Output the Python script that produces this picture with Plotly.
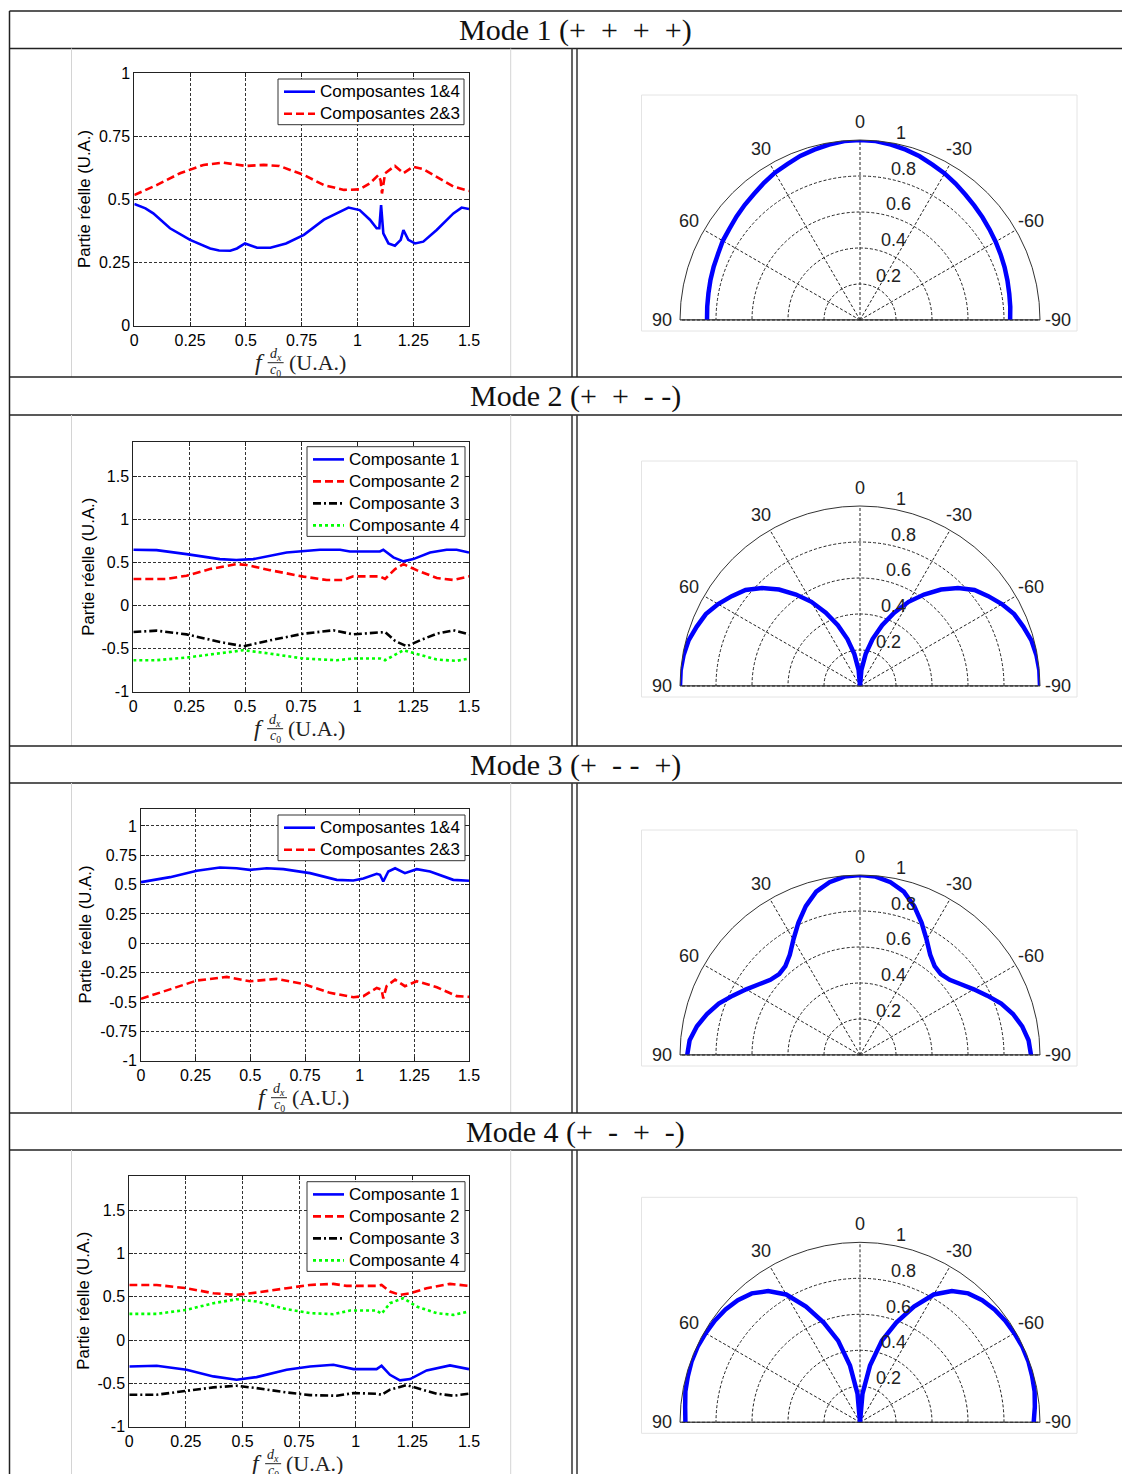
import math
import plotly.graph_objects as go

# page size and the 8 px body margin of the html page
PAGE_W, PAGE_H = 1130, 1474
OFF = 8
W, H = PAGE_W - OFF, PAGE_H - OFF

# ------------------------------------------------------------------ data
freq_tickvals = [0, 0.25, 0.5, 0.75, 1, 1.25, 1.5]
freq_ticktext = ["0", "0.25", "0.5", "0.75", "1", "1.25", "1.5"]

mode_names = ["Mode 1", "Mode 2", "Mode 3", "Mode 4"]
mode_signs = [["+", "+", "+", "+"], ["+", "+", "-", "-"], ["+", "-", "-", "+"], ["+", "-", "+", "-"]]
y_title = "Partie réelle (U.A.)"

# Mode 1
m1_c14_x = [0, 0.05, 0.085, 0.16, 0.25, 0.34, 0.38, 0.43, 0.46, 0.496, 0.55, 0.61, 0.68, 0.76, 0.85, 0.96,
            1.01, 1.056, 1.086, 1.098, 1.106, 1.116, 1.139, 1.168, 1.194, 1.206, 1.228, 1.258, 1.295, 1.355,
            1.43, 1.467, 1.5]
m1_c14_y = [0.482, 0.465, 0.445, 0.386, 0.34, 0.306, 0.298, 0.297, 0.306, 0.326, 0.309, 0.309, 0.326, 0.36,
            0.42, 0.468, 0.458, 0.42, 0.386, 0.386, 0.478, 0.366, 0.326, 0.317, 0.34, 0.379, 0.34, 0.326,
            0.333, 0.379, 0.445, 0.468, 0.462]
m1_c23_x = [0, 0.1, 0.205, 0.31, 0.4, 0.46, 0.5, 0.58, 0.65, 0.76, 0.85, 0.94, 1.01, 1.056, 1.094, 1.104,
            1.11, 1.124, 1.168, 1.206, 1.25, 1.295, 1.355, 1.43, 1.5]
m1_c23_y = [0.518, 0.557, 0.604, 0.637, 0.646, 0.639, 0.633, 0.637, 0.633, 0.597, 0.557, 0.538, 0.54, 0.564,
            0.597, 0.575, 0.524, 0.604, 0.633, 0.604, 0.63, 0.62, 0.59, 0.551, 0.534]

# Mode 2
m2_c1_x = [0, 0.104, 0.238, 0.387, 0.46, 0.536, 0.685, 0.834, 0.924, 0.968, 1.102, 1.117, 1.162, 1.207,
           1.251, 1.326, 1.4, 1.445, 1.5]
m2_c1_y = [0.646, 0.642, 0.596, 0.538, 0.527, 0.538, 0.615, 0.646, 0.646, 0.627, 0.627, 0.646, 0.558, 0.512,
           0.538, 0.615, 0.646, 0.646, 0.615]
m2_c2_x = [0, 0.149, 0.238, 0.343, 0.46, 0.506, 0.611, 0.76, 0.864, 0.939, 0.983, 1.102, 1.125, 1.17, 1.207,
           1.266, 1.356, 1.43, 1.5]
m2_c2_y = [0.308, 0.308, 0.346, 0.423, 0.48, 0.47, 0.41, 0.335, 0.296, 0.296, 0.338, 0.338, 0.308, 0.423,
           0.48, 0.41, 0.319, 0.296, 0.338]
m2_c3_x = [0, 0.104, 0.238, 0.387, 0.492, 0.611, 0.76, 0.894, 0.983, 1.102, 1.125, 1.17, 1.222, 1.281, 1.356,
           1.43, 1.5]
m2_c3_y = [-0.308, -0.292, -0.335, -0.423, -0.473, -0.404, -0.327, -0.288, -0.335, -0.319, -0.308, -0.412,
           -0.473, -0.404, -0.327, -0.288, -0.335]
m2_c4_x = [0, 0.104, 0.238, 0.387, 0.492, 0.611, 0.76, 0.909, 0.983, 1.102, 1.125, 1.207, 1.281, 1.356,
           1.445, 1.5]
m2_c4_y = [-0.635, -0.635, -0.604, -0.55, -0.519, -0.558, -0.615, -0.635, -0.615, -0.615, -0.635, -0.519,
           -0.577, -0.627, -0.642, -0.615]

# Mode 3
m3_c14_x = [0, 0.133, 0.255, 0.361, 0.437, 0.498, 0.575, 0.651, 0.773, 0.895, 0.971, 1.017, 1.078, 1.093,
            1.108, 1.131, 1.162, 1.207, 1.261, 1.322, 1.428, 1.5]
m3_c14_y = [0.521, 0.564, 0.618, 0.646, 0.64, 0.626, 0.64, 0.632, 0.598, 0.541, 0.535, 0.552, 0.592, 0.584,
            0.527, 0.612, 0.64, 0.598, 0.632, 0.612, 0.541, 0.533]
m3_c23_x = [0, 0.133, 0.255, 0.392, 0.498, 0.62, 0.742, 0.864, 0.971, 1.017, 1.078, 1.1, 1.108, 1.123, 1.162,
            1.207, 1.261, 1.353, 1.444, 1.5]
m3_c23_y = [-0.473, -0.394, -0.317, -0.286, -0.323, -0.303, -0.346, -0.422, -0.459, -0.45, -0.38, -0.394,
            -0.47, -0.365, -0.309, -0.365, -0.323, -0.374, -0.45, -0.456]

# Mode 4
m4_c1_x = [0, 0.121, 0.253, 0.371, 0.474, 0.562, 0.695, 0.798, 0.901, 0.99, 1.092, 1.114, 1.151, 1.195,
           1.24, 1.313, 1.416, 1.5]
m4_c1_y = [-0.304, -0.296, -0.342, -0.419, -0.458, -0.427, -0.342, -0.304, -0.285, -0.335, -0.335, -0.296,
           -0.4, -0.465, -0.45, -0.35, -0.292, -0.335]
m4_c2_x = [0, 0.121, 0.253, 0.371, 0.474, 0.562, 0.695, 0.798, 0.901, 0.96, 1.092, 1.114, 1.151, 1.195,
           1.24, 1.313, 1.416, 1.5]
m4_c2_y = [0.638, 0.638, 0.6, 0.542, 0.523, 0.55, 0.6, 0.638, 0.65, 0.627, 0.627, 0.638, 0.562, 0.523,
           0.542, 0.6, 0.65, 0.627]
m4_c3_x = [0, 0.121, 0.253, 0.371, 0.474, 0.562, 0.695, 0.798, 0.916, 0.99, 1.092, 1.114, 1.151, 1.225,
           1.284, 1.357, 1.431, 1.5]
m4_c3_y = [-0.631, -0.631, -0.585, -0.546, -0.527, -0.554, -0.604, -0.635, -0.642, -0.612, -0.619, -0.631,
           -0.573, -0.519, -0.565, -0.619, -0.642, -0.619]
m4_c4_x = [0, 0.121, 0.253, 0.371, 0.474, 0.562, 0.695, 0.798, 0.901, 0.975, 1.092, 1.114, 1.151, 1.21,
           1.269, 1.357, 1.431, 1.5]
m4_c4_y = [0.304, 0.304, 0.35, 0.427, 0.473, 0.446, 0.358, 0.312, 0.3, 0.342, 0.342, 0.304, 0.427, 0.485,
           0.388, 0.312, 0.292, 0.331]

# Polar patterns (angle in degrees, from 90 to -90)
polar_theta = [90, 85, 80, 75, 70, 65, 60, 55, 50, 45, 40, 35, 30, 25, 20, 15, 10, 5, 0,
               -5, -10, -15, -20, -25, -30, -35, -40, -45, -50, -55, -60, -65, -70, -75, -80, -85, -90]
polar_ticks = [90, 60, 30, 0, -30, -60, -90]
polar_rticks = [0.2, 0.4, 0.6, 0.8, 1]

p1_r = [0.85, 0.852, 0.855, 0.86, 0.865, 0.87, 0.88, 0.885, 0.895, 0.905, 0.915, 0.93, 0.945, 0.955, 0.97,
        0.98, 0.99, 0.998, 1.0,
        0.998, 0.99, 0.98, 0.968, 0.952, 0.94, 0.925, 0.91, 0.898, 0.888, 0.878, 0.87, 0.862, 0.855, 0.848,
        0.842, 0.838, 0.834, 0.83]
p2_r = [1.0, 1.0, 0.995, 0.985, 0.965, 0.945, 0.91, 0.87, 0.83, 0.77, 0.70, 0.62, 0.54, 0.45, 0.36, 0.27,
        0.18, 0.09, 0.0,
        0.09, 0.18, 0.27, 0.36, 0.45, 0.54, 0.62, 0.70, 0.77, 0.83, 0.87, 0.91, 0.945, 0.965, 0.985, 0.995,
        1.0, 1.0]
p3_r = [0.96, 0.95, 0.92, 0.88, 0.835, 0.78, 0.73, 0.685, 0.65, 0.635, 0.645, 0.68, 0.74, 0.81, 0.88, 0.94,
        0.975, 0.995, 1.0,
        0.995, 0.975, 0.94, 0.88, 0.81, 0.74, 0.68, 0.645, 0.635, 0.65, 0.685, 0.73, 0.78, 0.835, 0.88, 0.915,
        0.94, 0.95, 0.955]
p4_r = [0.97, 0.975, 0.985, 0.99, 0.995, 0.995, 0.99, 0.985, 0.975, 0.96, 0.935, 0.89, 0.82, 0.71, 0.59,
        0.47, 0.32, 0.16, 0.0,
        0.16, 0.32, 0.47, 0.59, 0.71, 0.82, 0.89, 0.935, 0.96, 0.975, 0.985, 0.99, 0.995, 0.995, 0.99, 0.985,
        0.975, 0.965, 0.955]

# ------------------------------------------------------------------ helpers
def PX(x):
    return (x - OFF) / W


def PY(y):
    return 1 - (y - OFF) / H


def header_text(name, signs):
    out = "("
    for j, s in enumerate(signs):
        out += s
        if j < len(signs) - 1:
            nxt = signs[j + 1]
            out += "\u2002" if (s == "+" or nxt == "+") else " "
    out += ")"
    return name + " " + out


SANS = "Liberation Sans, Arial, sans-serif"
SERIF = "Liberation Serif, Times New Roman, serif"

BLUE = dict(color="#0000ff", width=2.6, dash="solid")
RED = dict(color="#ff0000", width=2.6, dash="8px,4px")
BLACK = dict(color="#000000", width=2.6, dash="8px,3px,2px,3px")
GREEN = dict(color="#00ff00", width=2.6, dash="3px,3px")
GRID = "#333333"
PGRID = "#222222"

fig = go.Figure()
shapes = []
annotations = []

table_left = 9.5
header_rows = [(11, 48.5), (377, 415), (746, 783), (1113, 1150)]
content_rows = [(48.5, 377), (415, 746), (783, 1113), (1150, 1474)]

cart = [
    dict(x0=134.3, x1=469, yt=73.3, yb=325.7, yr=[0, 1], ytv=[0, 0.25, 0.5, 0.75, 1],
         ytt=["0", "0.25", "0.5", "0.75", "1"], leg=(278, 464, 79), ytitle_x=84.5, unit="(U.A.)"),
    dict(x0=133.3, x1=469, yt=441.7, yb=691.7, yr=[-1, 1.9], ytv=[-1, -0.5, 0, 0.5, 1, 1.5],
         ytt=["-1", "-0.5", "0", "0.5", "1", "1.5"], leg=(307, 465, 446.7), ytitle_x=89, unit="(U.A.)"),
    dict(x0=141, x1=469, yt=809.3, yb=1060.7, yr=[-1, 1.142],
         ytv=[-1, -0.75, -0.5, -0.25, 0, 0.25, 0.5, 0.75, 1],
         ytt=["-1", "-0.75", "-0.5", "-0.25", "0", "0.25", "0.5", "0.75", "1"], leg=(278, 465, 815),
         ytitle_x=84.5, unit="(A.U.)"),
    dict(x0=129.3, x1=469, yt=1175.7, yb=1426.7, yr=[-1, 1.9], ytv=[-1, -0.5, 0, 0.5, 1, 1.5],
         ytt=["-1", "-0.5", "0", "0.5", "1", "1.5"], leg=(307, 465, 1181.7), ytitle_x=83.5, unit="(U.A.)"),
]

series = [
    [("Composantes 1&4", m1_c14_x, m1_c14_y, BLUE), ("Composantes 2&3", m1_c23_x, m1_c23_y, RED)],
    [("Composante 1", m2_c1_x, m2_c1_y, BLUE), ("Composante 2", m2_c2_x, m2_c2_y, RED),
     ("Composante 3", m2_c3_x, m2_c3_y, BLACK), ("Composante 4", m2_c4_x, m2_c4_y, GREEN)],
    [("Composantes 1&4", m3_c14_x, m3_c14_y, BLUE), ("Composantes 2&3", m3_c23_x, m3_c23_y, RED)],
    [("Composante 1", m4_c1_x, m4_c1_y, BLUE), ("Composante 2", m4_c2_x, m4_c2_y, RED),
     ("Composante 3", m4_c3_x, m4_c3_y, BLACK), ("Composante 4", m4_c4_x, m4_c4_y, GREEN)],
]

polar_centers = [320, 686, 1055, 1422.3]
polar_cx = 860
R = 180
polar_data = [p1_r, p2_r, p3_r, p4_r]

layout_extra = {}
legend_shapes = []

for i in range(4):
    k = "" if i == 0 else str(i + 1)
    c = cart[i]
    for name, xs, ys, ln in series[i]:
        fig.add_trace(go.Scatter(x=xs, y=ys, mode="lines", name=name, line=ln,
                                 xaxis="x" + k, yaxis="y" + k, showlegend=False))
    common = dict(showline=True, mirror="ticks", linecolor="#222", linewidth=1, ticks="inside",
                  ticklen=4, tickcolor="#222", showgrid=True, gridcolor=GRID, gridwidth=1,
                  griddash="3px,2px", zeroline=False, tickfont=dict(family=SANS, size=16, color="black"),
                  fixedrange=True)
    layout_extra["xaxis" + k] = dict(domain=[PX(c["x0"]), PX(c["x1"])], range=[0, 1.5], anchor="y" + k,
                                     tickmode="array", tickvals=freq_tickvals, ticktext=freq_ticktext,
                                     **common)
    layout_extra["yaxis" + k] = dict(domain=[PY(c["yb"]), PY(c["yt"])], range=c["yr"], anchor="x" + k,
                                     tickmode="array", tickvals=c["ytv"], ticktext=c["ytt"], **common)

    # boxed key
    lx0, lx1, lyt = c["leg"]
    n = len(series[i])
    lyb = lyt + 12.7 + (n - 1) * 22 + 11
    legend_shapes.append(dict(type="rect", xref="paper", yref="paper", x0=PX(lx0), x1=PX(lx1),
                              y0=PY(lyb), y1=PY(lyt), fillcolor="white", line=dict(color="#333", width=1)))
    for j, (name, xs, ys, ln) in enumerate(series[i]):
        ry = lyt + 12.7 + j * 22
        legend_shapes.append(dict(type="line", xref="paper", yref="paper", x0=PX(lx0 + 6), x1=PX(lx0 + 37),
                                  y0=PY(ry), y1=PY(ry), line=ln))
        annotations.append(dict(x=PX(lx0 + 40), y=PY(ry), xref="paper", yref="paper", text=name,
                                showarrow=False, xanchor="left", yanchor="middle",
                                font=dict(family=SANS, size=17, color="black")))

    # y title
    annotations.append(dict(x=PX(c["ytitle_x"]), y=PY((c["yt"] + c["yb"]) / 2), xref="paper", yref="paper",
                            text=y_title, textangle=-90, showarrow=False, xanchor="center", yanchor="middle",
                            font=dict(family=SANS, size=16.8, color="black")))
    # x title: f d_x/c_0 (U.A.)
    cxm = (c["x0"] + c["x1"]) / 2
    y0 = c["yb"] + 36.5
    annotations.append(dict(x=PX(cxm - 42), y=PY(y0), xref="paper", yref="paper", text="<i>f</i>",
                            showarrow=False, xanchor="center", yanchor="middle",
                            font=dict(family=SERIF, size=24, color="#222")))
    annotations.append(dict(x=PX(cxm - 26), y=PY(y0 - 8), xref="paper", yref="paper",
                            text="<i>d<sub>x</sub></i>", showarrow=False, xanchor="center", yanchor="middle",
                            font=dict(family=SERIF, size=14, color="#222")))
    annotations.append(dict(x=PX(cxm - 26), y=PY(y0 + 8.5), xref="paper", yref="paper",
                            text="<i>c</i><sub>0</sub>", showarrow=False, xanchor="center", yanchor="middle",
                            font=dict(family=SERIF, size=14, color="#222")))
    shapes.append(dict(type="line", xref="paper", yref="paper", x0=PX(cxm - 34), x1=PX(cxm - 18),
                       y0=PY(y0 + 0.5), y1=PY(y0 + 0.5), line=dict(color="#222", width=1)))
    annotations.append(dict(x=PX(cxm - 15), y=PY(y0), xref="paper", yref="paper", text=c["unit"],
                            showarrow=False, xanchor="left", yanchor="middle",
                            font=dict(family=SERIF, size=22, color="#222")))

    # polar plot
    cy = polar_centers[i]
    pk = "polar" + k
    fig.add_trace(go.Scatterpolar(r=[1, 0, 1], theta=[90, 90, -90], mode="lines",
                                  line=dict(color="#222", width=1), subplot=pk, showlegend=False,
                                  hoverinfo="skip"))
    fig.add_trace(go.Scatterpolar(r=polar_data[i], theta=polar_theta, mode="lines",
                                  name=header_text(mode_names[i], mode_signs[i]),
                                  line=dict(color="#0000ff", width=4.5), subplot=pk, showlegend=False))
    layout_extra[pk] = dict(
        domain=dict(x=[PX(polar_cx - R), PX(polar_cx + R)], y=[PY(cy), PY(cy - R)]),
        sector=[0, 180], bgcolor="white", hole=0,
        angularaxis=dict(rotation=90, direction="counterclockwise", tickmode="array", tickvals=polar_ticks,
                         showticklabels=False, ticks="", showline=True, linecolor="#333", linewidth=1,
                         showgrid=True, gridcolor=PGRID, gridwidth=1, griddash="3px,2px"),
        radialaxis=dict(range=[0, 1], tickmode="array", tickvals=[0.2, 0.4, 0.6, 0.8], showticklabels=False,
                        ticks="", showline=False, showgrid=True, gridcolor=PGRID, gridwidth=1,
                        griddash="3px,2px", angle=90),
    )
    for a in polar_ticks:
        ax = polar_cx - 1.1 * R * math.sin(math.radians(a))
        ay = cy - 1.1 * R * math.cos(math.radians(a))
        annotations.append(dict(x=PX(ax), y=PY(ay), xref="paper", yref="paper", text=str(a), showarrow=False,
                                xanchor="center", yanchor="middle", font=dict(family=SANS, size=18, color="#222")))
    for rv in polar_rticks:
        rr = (rv + 0.01) * R
        ax = polar_cx + rr * math.cos(math.radians(82)) + 9
        ay = cy - rr * math.sin(math.radians(82))
        annotations.append(dict(x=PX(ax), y=PY(ay + 5), xref="paper", yref="paper",
                                text=("1" if rv == 1 else str(rv)), showarrow=False, xanchor="left",
                                yanchor="bottom", font=dict(family=SANS, size=18, color="#222")))
    shapes.append(dict(type="rect", xref="paper", yref="paper", x0=PX(641.5), x1=PX(1077), y0=PY(cy + 11),
                       y1=PY(cy - 225), line=dict(color="#e4e4e4", width=1)))

    # table pieces
    ht, hb = header_rows[i]
    annotations.append(dict(x=PX(575), y=PY((ht + hb) / 2 + 0.5), xref="paper", yref="paper",
                            text=header_text(mode_names[i], mode_signs[i]),
                            showarrow=False, xanchor="center", yanchor="middle",
                            font=dict(family=SERIF, size=30, color="#111")))
    for yy in (ht, hb):
        shapes.append(dict(type="line", xref="paper", yref="paper", x0=PX(table_left), x1=1,
                           y0=PY(yy), y1=PY(yy), line=dict(color="#222", width=1.5)))
    ct, cb = content_rows[i]
    for xx in (572, 577):
        shapes.append(dict(type="line", xref="paper", yref="paper", x0=PX(xx), x1=PX(xx),
                           y0=PY(ct), y1=PY(cb), line=dict(color="#333", width=1.5)))
    for xx in (71.5, 510.7):
        shapes.append(dict(type="line", xref="paper", yref="paper", x0=PX(xx), x1=PX(xx),
                           y0=PY(ct), y1=PY(cb), line=dict(color="#d4d4d4", width=1)))

shapes.append(dict(type="line", xref="paper", yref="paper", x0=PX(table_left), x1=PX(table_left),
                   y0=PY(11), y1=0, line=dict(color="#222", width=1.5)))

fig.update_layout(
    width=W, height=H, margin=dict(l=0, r=0, t=0, b=0, autoexpand=False),
    paper_bgcolor="white", plot_bgcolor="white", showlegend=False,
    shapes=shapes + legend_shapes, annotations=annotations, **layout_extra,
)

fig.write_html("out.html")
